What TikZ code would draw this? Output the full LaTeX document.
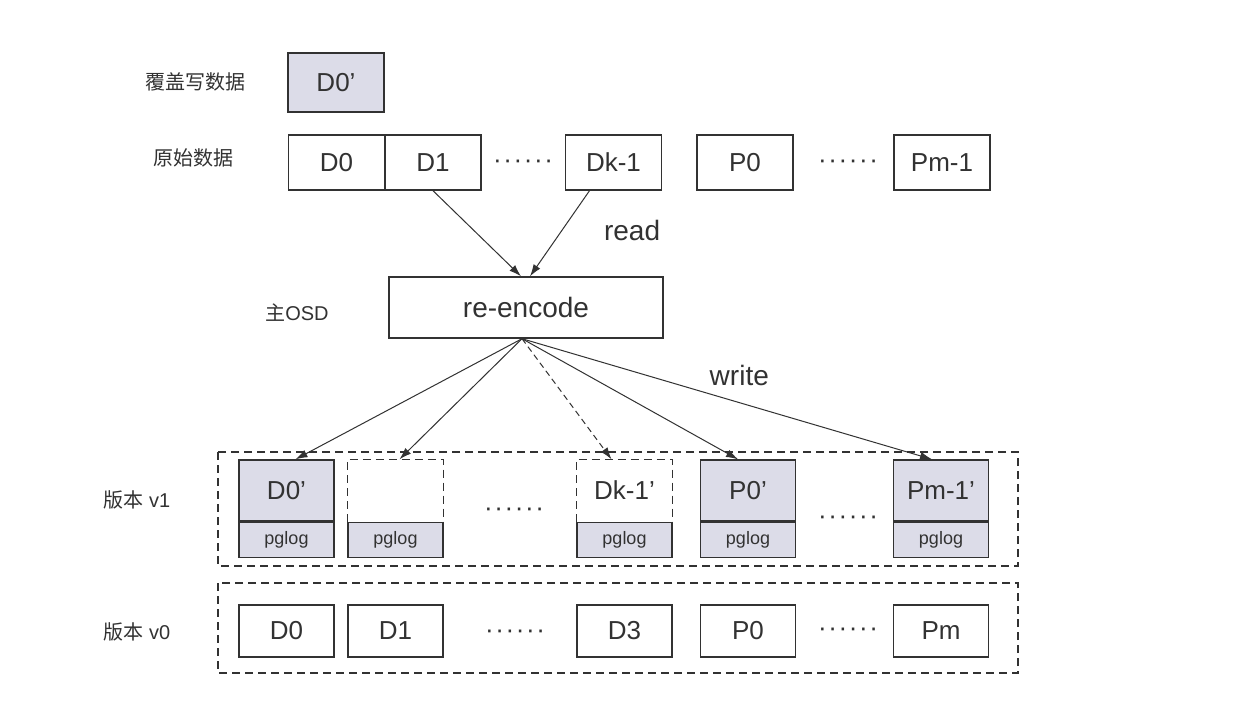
\documentclass[tikz,border=0pt]{standalone}
\usepackage{fontspec}
\setmainfont{Liberation Sans}
\newfontfamily\cjk{Noto Sans CJK SC}
\usetikzlibrary{arrows.meta,positioning}
\definecolor{lavgray}{RGB}{220,220,232}
\definecolor{inkgray}{RGB}{50,50,50}
\newcommand\blkfont{\fontsize{13}{15}\selectfont}
\newcommand\bigfont{\fontsize{14}{16}\selectfont}
\newcommand\cnfont{\fontsize{10}{12}\selectfont}
\newcommand\logfont{\fontsize{9}{11}\selectfont}
\newcommand\dotrow{\foreach \i in {1,...,6}{\textperiodcentered\hspace{0.8pt}}}
\tikzstyle{blk} = [draw=inkgray, line width=0.7pt, minimum width=48pt, minimum height=27.5pt, inner sep=0pt, text=inkgray, font=\blkfont]
\tikzstyle{shaded} = [blk, fill=lavgray]
\tikzstyle{upper} = [blk, minimum width=47.5pt, minimum height=30.5pt]
\tikzstyle{ghost} = [upper, draw=none]
\tikzstyle{logbox} = [blk, fill=lavgray, minimum width=47.5pt, minimum height=17.5pt, font=\logfont]
\tikzstyle{lbl} = [text=inkgray, inner sep=1pt]
\tikzstyle{verbox} = [draw=inkgray, line width=0.6pt, dash pattern=on 4pt off 2.5pt]
\tikzstyle{arr} = [draw=inkgray, line width=0.5pt, -{Latex[length=6pt,width=4pt]}]

\begin{document}
\begin{tikzpicture}[x=0.5pt, y=-0.5pt]
	\useasboundingbox[fill=white] (0,0) rectangle (1258,712);
	% overwrite data and original data
	\node[lbl, font=\cnfont] (lblnew) at (195,82) {\cjk 覆盖写数据};
	\node[shaded, minimum height=29.5pt] (d0new) at (336,82.5) {D0’};
	\node[lbl, font=\cnfont] (lblorig) at (193,158) {\cjk 原始数据};
	\node[blk] (d0) at (336.5,162.5) {D0};
	\node[blk] (d1) at (433,162.5) {D1};
	\node[lbl] (dotsa) at (523,164) {\blkfont\dotrow};
	\node[blk] (dk) at (613.5,162.5) {Dk-1};
	\node[blk] (p0) at (745,162.5) {P0};
	\node[lbl] (dotsb) at (848,164) {\blkfont\dotrow};
	\node[blk] (pm) at (942,162.5) {Pm-1};
	% primary OSD
	\node[blk, minimum width=137pt, minimum height=30.5pt, font=\bigfont] (enc) at (526,307.5) {re-encode};
	\node[lbl, font=\cnfont] (lblosd) at (297,313) {{\cjk 主}OSD};
	\draw[arr] (d1.south) -- ([xshift=-2.5pt]enc.north);
	\draw[arr] ([xshift=-12pt]dk.south) -- node[lbl, pos=0.47, right=20pt, font=\bigfont] (rd) {read} ([xshift=2pt]enc.north);
	% version v1
	\draw[verbox] (218,452) rectangle (1018,566);
	\node[lbl, font=\cnfont] (lblv1) at (137,500) {{\cjk 版本} v1};
	\node[upper, fill=lavgray] (d0n) at (286.5,490.5) {D0’};
	\node[logbox, below=0pt of d0n] (logd0) {pglog};
	\node[ghost] (d1n) at (395.5,490.5) {};
	\node[logbox, below=0pt of d1n] (logd1) {pglog};
	\draw[verbox] (logd1.north west) |- (d1n.north east) -- (logd1.north east);
	\node[lbl] (dotsc) at (514,512) {\blkfont\dotrow};
	\node[ghost] (dkn) at (624.5,490.5) {Dk-1’};
	\node[logbox, below=0pt of dkn] (logdk) {pglog};
	\draw[verbox] (logdk.north west) |- (dkn.north east) -- (logdk.north east);
	\node[upper, fill=lavgray] (p0n) at (748,490.5) {P0’};
	\node[logbox, below=0pt of p0n] (logp0) {pglog};
	\node[lbl] (dotsd) at (848,520) {\blkfont\dotrow};
	\node[upper, fill=lavgray] (pmn) at (941,490.5) {Pm-1’};
	\node[logbox, below=0pt of pmn] (logpm) {pglog};
	% write
	\draw[arr] ([xshift=-2pt]enc.south) -- ([xshift=4.5pt]d0n.north);
	\draw[arr] ([xshift=-2pt]enc.south) -- ([xshift=2pt]d1n.north);
	\draw[arr, dash pattern=on 3pt off 2pt] ([xshift=-2pt]enc.south) -- ([xshift=-6.5pt]dkn.north);
	\draw[arr] ([xshift=-2pt]enc.south) -- ([xshift=-5pt]p0n.north);
	\draw[arr] ([xshift=-2pt]enc.south) -- node[lbl, pos=0.53, above=7pt, font=\bigfont] (wr) {write} ([xshift=-4.5pt]pmn.north);
	% version v0
	\draw[verbox] (218,583) rectangle (1018,673);
	\node[lbl, font=\cnfont] (lblv0) at (137,632) {{\cjk 版本} v0};
	\node[blk, minimum width=47.5pt, minimum height=26pt] (d0o) at (286.5,631) {D0};
	\node[blk, minimum width=47.5pt, minimum height=26pt] (d1o) at (395.5,631) {D1};
	\node[lbl] (dotse) at (515,634) {\blkfont\dotrow};
	\node[blk, minimum width=47.5pt, minimum height=26pt] (d3o) at (624.5,631) {D3};
	\node[blk, minimum width=47.5pt, minimum height=26pt] (p0o) at (748,631) {P0};
	\node[lbl] (dotsf) at (848,632) {\blkfont\dotrow};
	\node[blk, minimum width=47.5pt, minimum height=26pt] (pmo) at (941,631) {Pm};
\end{tikzpicture}
\end{document}
